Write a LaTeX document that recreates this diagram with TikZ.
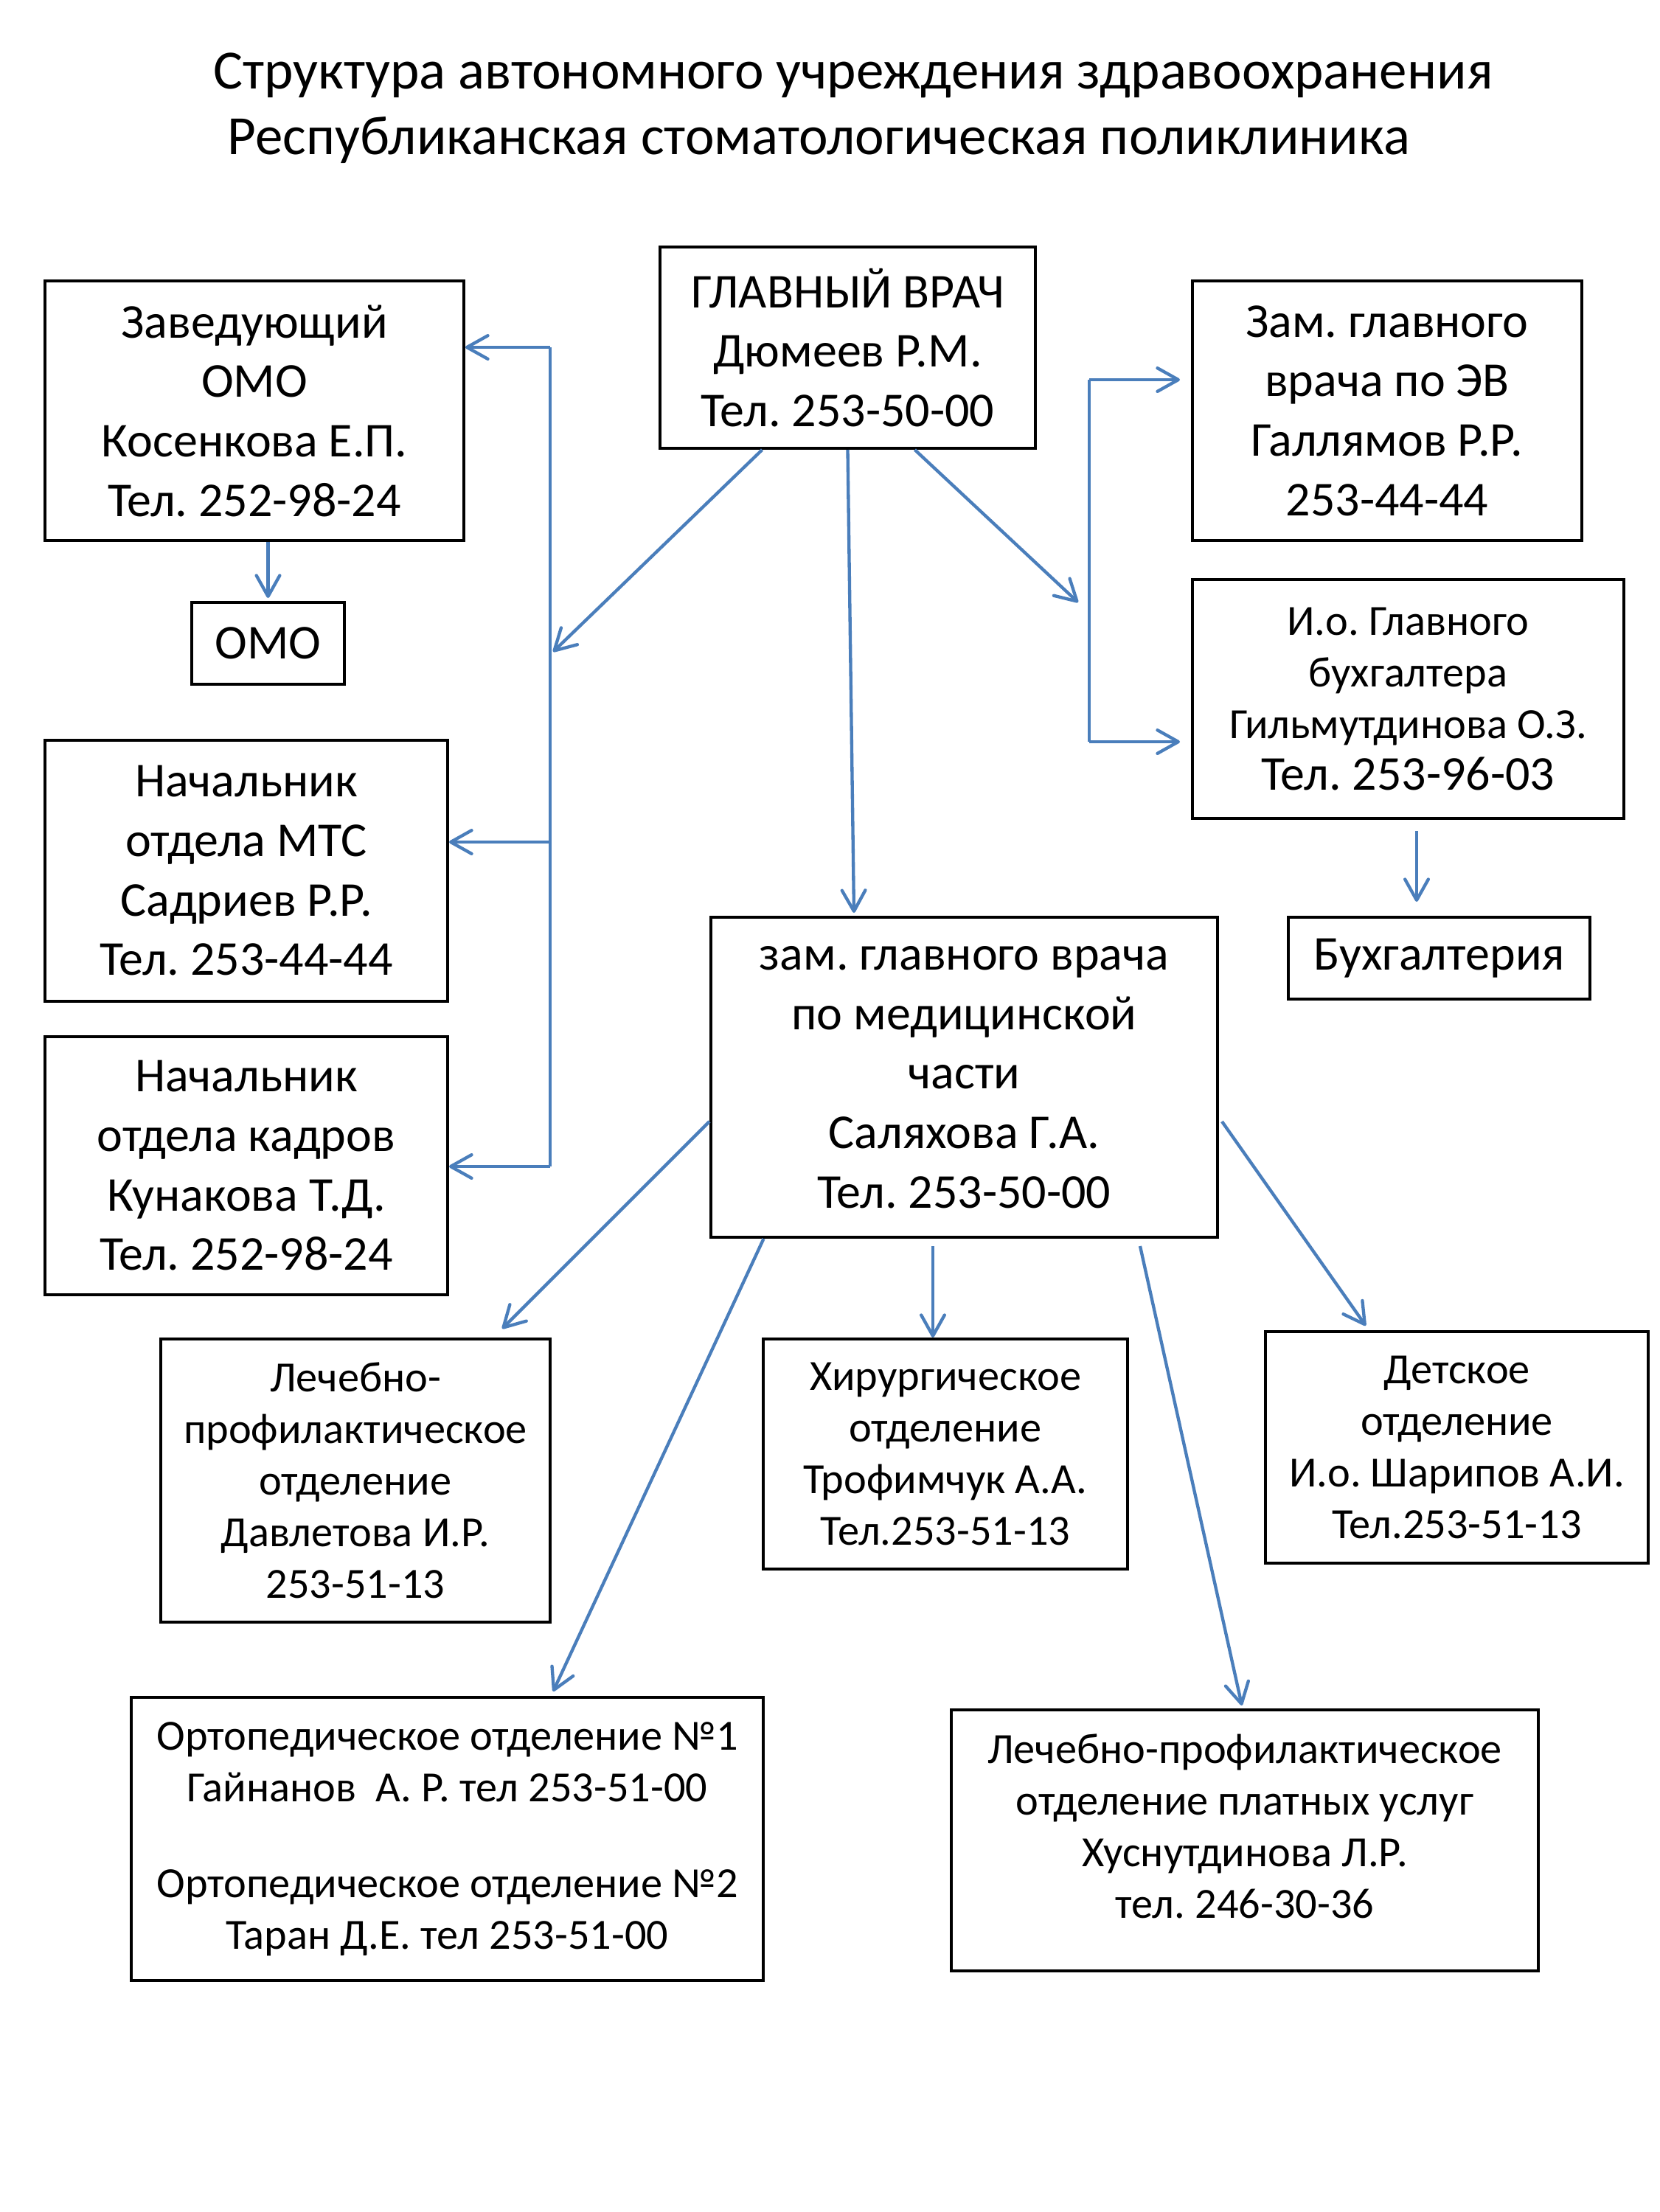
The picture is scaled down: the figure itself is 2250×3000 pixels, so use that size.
\documentclass[tikz,border=0pt]{standalone}
\usepackage{fontspec}
\setmainfont{Carlito}
\usetikzlibrary{arrows.meta,calc}
\definecolor{linkblue}{HTML}{4A7EBB}
\newcommand{\bigtxt}{\fontsize{19.8}{24.2}\selectfont}
\newcommand{\smtxt}{\fontsize{17.5}{21}\selectfont}
\newcommand{\ttltxt}{\fontsize{22.5}{28}\selectfont}
\frenchspacing

\begin{document}
\begin{tikzpicture}[x=0.3pt,y=-0.3pt,
  box/.style={draw,line width=1.2pt,align=center,inner sep=0pt,font=\bigtxt},
  sbox/.style={box,font=\smtxt},
  link/.style={linkblue,line width=1.3pt},
  arr/.style={link,-{Straight Barb[length=8.5pt,width=9.5pt,round]}}]
  \fill[white] (0,0) rectangle (2250,3000);
  \useasboundingbox (0,0) rectangle (2250,3000);
  \node[font=\ttltxt] (t1) at (1157,102) {Структура автономного учреждения здравоохранения};
  \node[font=\ttltxt] (t2) at (1110,190) {Республиканская стоматологическая поликлиника};

  \node[box,minimum width=152.7pt,minimum height=81.9pt] (gv) at (1149.5,471.5)
    {ГЛАВНЫЙ ВРАЧ\\Дюмеев Р.М.\\Тел. 253-50-00};
  \node[box,minimum width=170.4pt,minimum height=105.6pt] (zomo) at (345,557)
    {Заведующий\\ОМО\\Косенкова Е.П.\\Тел. 252-98-24};
  \node[box,minimum width=62.1pt,minimum height=33.3pt] (omo) at (363.5,872.5) {ОМО};
  \node[box,minimum width=163.8pt,minimum height=106.2pt] (mts) at (334,1181)
    {Начальник\\отдела МТС\\Садриев Р.Р.\\Тел. 253-44-44};
  \node[box,minimum width=163.8pt,minimum height=105pt] (kadr) at (334,1581)
    {Начальник\\отдела кадров\\Кунакова Т.Д.\\Тел. 252-98-24};
  \node[box,minimum width=158.4pt,minimum height=105.6pt] (zev) at (1881,557)
    {Зам. главного\\врача по ЭВ\\Галлямов Р.Р.\\253-44-44};
  \node[sbox,minimum width=175.5pt,minimum height=97.2pt] (gbuh) at (1909.5,948)
    {И.о. Главного\\бухгалтера\\Гильмутдинова О.З.\\{\bigtxt Тел. 253-96-03}};
  \node[box,minimum width=122.7pt,minimum height=33.3pt] (buh) at (1951.5,1299.5) {Бухгалтерия};
  \node[box,minimum width=206.1pt,minimum height=130.2pt] (zmed) at (1307.5,1461)
    {зам. главного врача\\по медицинской\\части\\Саляхова Г.А.\\Тел. 253-50-00};
  \node[sbox,minimum width=158.4pt,minimum height=115.2pt] (lpo) at (482,2008)
    {Лечебно-\\профилактическое\\отделение\\Давлетова И.Р.\\253-51-13};
  \node[sbox,minimum width=148.2pt,minimum height=93.6pt] (hir) at (1282,1972)
    {Хирургическое\\отделение\\Трофимчук А.А.\\Тел.253-51-13};
  \node[sbox,minimum width=155.7pt,minimum height=94.2pt] (det) at (1975.5,1963)
    {Детское\\отделение\\И.о. Шарипов А.И.\\Тел.253-51-13};
  \node[sbox,minimum width=257.1pt,minimum height=115.2pt] (orto) at (606.5,2494)
    {Ортопедическое отделение №1\\Гайнанов~ А. Р. тел 253-51-00\\[18pt]Ортопедическое отделение №2\\Таран Д.Е. тел 253-51-00};
  \node[sbox,minimum width=238.8pt,minimum height=106.2pt,text depth=11.6pt] (plat) at (1688,2496)
    {Лечебно-профилактическое\\отделение платных услуг\\Хуснутдинова Л.Р.\\тел. 246-30-36};

  \coordinate (lt) at (746,471); \coordinate (lm) at (746,1142); \coordinate (lb) at (746,1582);
  \coordinate (lh) at (750,884);
  \coordinate (rt) at (1477,515); \coordinate (rb) at (1477,1006); \coordinate (rh) at (1462,817);
  \draw[link] (lt) -- (lb);
  \draw[link] (rt) -- (rb);
  \draw[arr] (lt) -- (zomo.east |- lt);
  \draw[arr] (lm) -- (mts.east |- lm);
  \draw[arr] (lb) -- (kadr.east |- lb);
  \draw[arr] (rt) -- ($(zev.west |- rt)+(-15,0)$);
  \draw[arr] (rb) -- ($(gbuh.west |- rb)+(-15,0)$);

  \draw[arr] ($(gv.south)+(-116,0)$) -- (lh);
  \draw[arr] (gv.south) -- ($(zmed.north)+(-149.5,-4)$);
  \draw[arr] ($(gv.south)+(91,0)$) -- (rh);

  \draw[arr] (omo.north |- zomo.south) -- ($(omo.north)+(0,-4)$);
  \coordinate (b0) at ($(gbuh.south)+(11.5,15)$);
  \draw[arr] (b0) -- ($(b0 |- buh.north)+(0,-19)$);

  \draw[arr] ($(zmed.west)+(0,60)$) -- ($(lpo.north)+(199,-12)$);
  \draw[arr] ($(zmed.south)+(-272,0)$) -- ($(orto.north)+(143.5,-6)$);
  \coordinate (h0) at ($(zmed.south)+(-42.5,10)$);
  \draw[arr] (h0) -- (hir.north -| h0);
  \draw[arr] ($(zmed.south)+(238.5,10)$) -- ($(plat.north)+(-4,-4)$);
  \draw[arr] ($(zmed.east)+(4,60)$) -- ($(det.north)+(-123.5,-6)$);
\end{tikzpicture}
\end{document}
